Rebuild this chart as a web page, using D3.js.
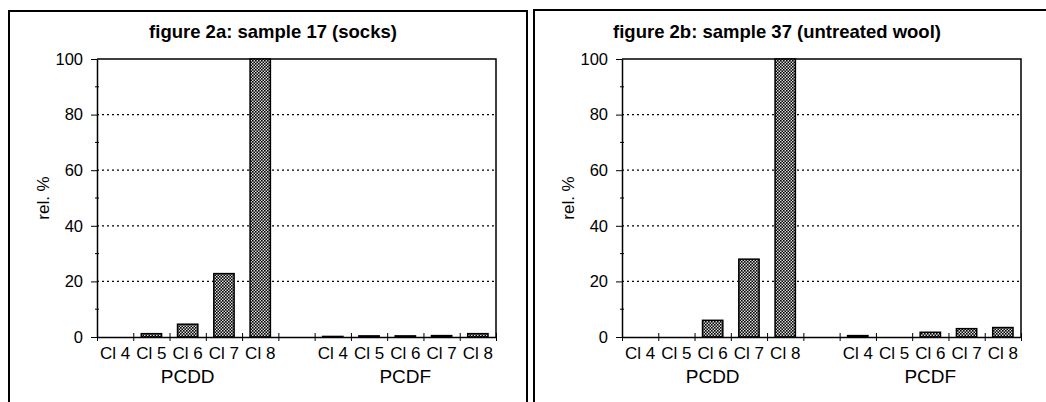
<!DOCTYPE html>
<html>
<head>
<meta charset="utf-8">
<script src="https://cdn.jsdelivr.net/npm/d3@7"></script>
<style>
  body { margin: 0; background: #fff; }
  svg { display: block; font-family: "Liberation Sans", Arial, sans-serif; }
</style>
</head>
<body>
<div id="chart"></div>
<script>
// data
const categories = ["Cl 4", "Cl 5", "Cl 6", "Cl 7", "Cl 8", "", "Cl 4", "Cl 5", "Cl 6", "Cl 7", "Cl 8"];
const groups = ["PCDD", "PCDF"];
const sample17 = [0, 1.2, 4.6, 22.8, 100, 0, 0.2, 0.4, 0.4, 0.5, 1.2];
const sample37 = [0, 0, 6.0, 28, 100, 0, 0.5, 0, 1.7, 3.0, 3.4];
const yTicks = [0, 20, 40, 60, 80, 100];
const minorTicks = [10, 30, 50, 70, 90];
const titles = ["figure 2a: sample 17 (socks)", "figure 2b: sample 37 (untreated wool)"];

const W = 1046, H = 402;
const svg = d3.select("#chart").append("svg")
  .attr("width", W)
  .attr("height", H);

// crosshatch fill like the print
const defs = svg.append("defs");
const pat = defs.append("pattern")
  .attr("id", "hatch")
  .attr("patternUnits", "userSpaceOnUse")
  .attr("width", 3)
  .attr("height", 3);
pat.append("rect").attr("width", 3).attr("height", 3).attr("fill", "#ddd");
pat.append("rect").attr("x", 0).attr("y", 0).attr("width", 1.6).attr("height", 1.6).attr("fill", "#000");
pat.append("rect").attr("x", 1.5).attr("y", 1.5).attr("width", 1.6).attr("height", 1.6).attr("fill", "#000");

// outer frames
svg.append("path")
  .attr("d", "M9,402 V11 H527 V402")
  .attr("fill", "none").attr("stroke", "#000").attr("stroke-width", 2);
svg.append("path")
  .attr("d", "M534,402 V10 H1046")
  .attr("fill", "none").attr("stroke", "#000").attr("stroke-width", 2);

const panels = [
  { values: sample17, title: titles[0], dx: 0, titleX: 273 },
  { values: sample37, title: titles[1], dx: 525, titleX: 777 }
];

panels.forEach(p => drawPanel(p));

function drawPanel(p) {
  const x0 = 97 + p.dx, x1 = 496 + p.dx;
  const yTop = 59, yBottom = 337;

  const g = svg.append("g");

  const y = d3.scaleLinear().domain([0, 100]).range([yBottom, yTop]);
  const x = d3.scaleBand().domain(d3.range(categories.length)).range([x0, x1]).paddingInner(0.44).paddingOuter(0.22);
  const xEdge = d3.scaleLinear().domain([0, categories.length]).range([x0, x1]);

  // title
  g.append("text")
    .attr("x", p.titleX)
    .attr("y", 38)
    .attr("text-anchor", "middle")
    .style("font-size", "18.5px")
    .style("font-weight", "bold")
    .text(p.title);

  // dotted gridlines
  g.selectAll(".grid")
    .data(yTicks.filter(t => t > 0 && t < 100))
    .enter()
    .append("line")
    .attr("x1", x0).attr("x2", x1)
    .attr("y1", d => y(d)).attr("y2", d => y(d))
    .attr("stroke", "#000")
    .attr("stroke-width", 1.2)
    .attr("stroke-dasharray", "2,3");

  // top and right border of the plot
  g.append("path")
    .attr("d", `M${x0},${y(100)} H${x1} V${y(0)}`)
    .attr("fill", "none")
    .attr("stroke", "#000")
    .attr("stroke-width", 1.5);

  // bars
  g.selectAll(".bar")
    .data(p.values.map((v, i) => ({ v, i })).filter(d => d.v > 0))
    .enter()
    .append("rect")
    .attr("x", d => x(d.i))
    .attr("width", x.bandwidth())
    .attr("y", d => y(d.v))
    .attr("height", d => y(0) - y(d.v))
    .attr("fill", "url(#hatch)")
    .attr("stroke", "#000")
    .attr("stroke-width", 1.5);

  // y axis
  const yAxis = g.append("g")
    .attr("transform", `translate(${x0},0)`)
    .call(d3.axisLeft(y).tickValues(yTicks).tickSize(6).tickSizeOuter(0).tickPadding(8));
  yAxis.select(".domain").attr("stroke-width", 1.5);
  yAxis.selectAll("text").style("font-size", "16.5px").attr("fill", "#000");

  g.selectAll(".minor")
    .data(minorTicks)
    .enter()
    .append("line")
    .attr("x1", x0 - 2).attr("x2", x0 + 2)
    .attr("y1", d => y(d)).attr("y2", d => y(d))
    .attr("stroke", "#000");

  // x axis with crossing ticks at band edges
  const xAxis = g.append("g")
    .attr("transform", `translate(0,${yBottom})`)
    .call(d3.axisBottom(xEdge).tickValues(d3.range(categories.length + 1)).tickSize(4).tickSizeOuter(0).tickFormat(""));
  xAxis.select(".domain").attr("stroke-width", 1.5);
  xAxis.selectAll(".tick line").attr("y1", -4).attr("y2", 4);

  g.selectAll(".cat")
    .data(categories)
    .enter()
    .append("text")
    .attr("x", (d, i) => x(i) + x.bandwidth() / 2)
    .attr("y", 359)
    .attr("text-anchor", "middle")
    .style("font-size", "17px")
    .text(d => d);

  g.selectAll(".grp")
    .data(groups)
    .enter()
    .append("text")
    .attr("x", (d, i) => (xEdge(i * 6) + xEdge(i * 6 + 5)) / 2)
    .attr("y", 383)
    .attr("text-anchor", "middle")
    .style("font-size", "19px")
    .text(d => d);

  // axis title
  g.append("text")
    .attr("transform", `translate(${49 + p.dx},${198}) rotate(-90)`)
    .attr("text-anchor", "middle")
    .style("font-size", "17px")
    .text("rel. %");
}
</script>
</body>
</html>
